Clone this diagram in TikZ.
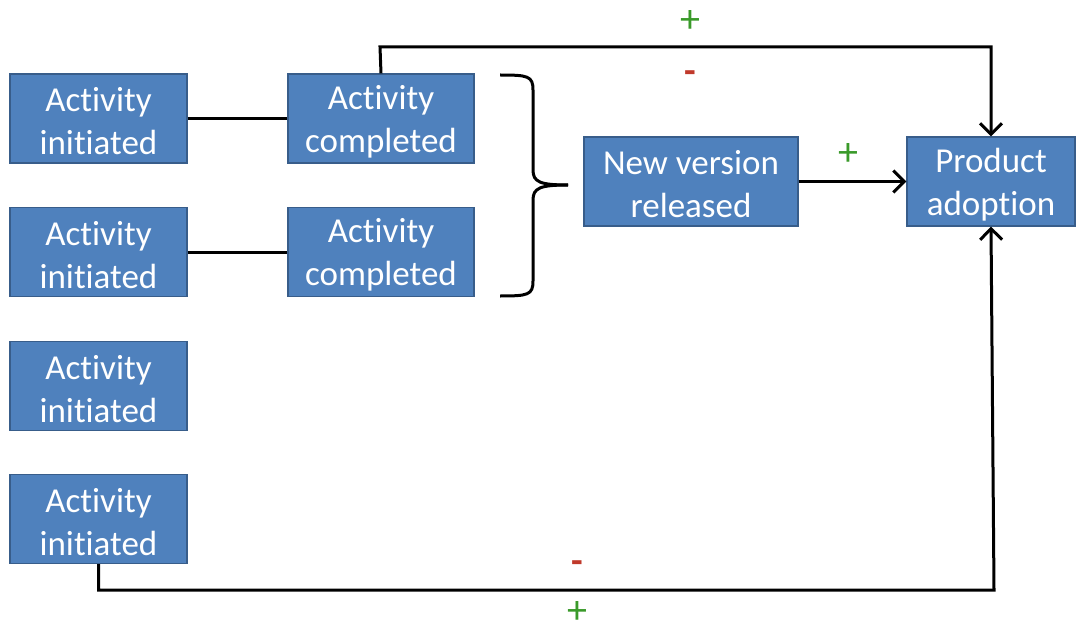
\documentclass[tikz,border=0pt]{standalone}
\usepackage{fontspec}
\setmainfont{Carlito}[Ligatures=NoCommon,RawFeature={-liga;-clig;-calt;-dlig}]
\usetikzlibrary{arrows.meta}
\definecolor{boxfill}{HTML}{4F81BD}
\definecolor{boxdraw}{HTML}{385D8A}
\definecolor{plusgreen}{HTML}{3A9A2A}
\definecolor{minusred}{HTML}{C0392B}
\newcommand{\tI}{t\kern0pt i}
\begin{document}
\begin{tikzpicture}[x=1pt,y=-1pt,
  box/.style={draw=boxdraw,fill=boxfill,line width=1.2pt,inner sep=0pt,minimum height=89pt},
  txt/.style={text=white,align=center,font=\fontsize{35}{43}\selectfont,inner sep=0pt,yshift=-3pt},
  wline/.style={line width=3pt,line join=miter},
  arr/.style={wline,-{Straight Barb[length=11pt,width=22pt,line width=3pt]}},
  plus/.style={text=plusgreen,font=\fontsize{40}{40}\selectfont,inner sep=0pt},
  minus/.style={text=minusred,font=\fontsize{38}{38}\selectfont\bfseries,inner sep=0pt}]
\useasboundingbox (0,0) rectangle (1078,631);
\node[box,minimum width=177pt,label={[txt]center:{Ac\tI vity\\ini\tI ated}}] (ai1) at (98.5,118.5) {};
\node[box,minimum width=186pt,label={[txt]center:{Ac\tI vity\\completed}}] (ac1) at (381,118.5) {};
\node[box,minimum width=177pt,label={[txt]center:{Ac\tI vity\\ini\tI ated}}] (ai2) at (98.5,252) {};
\node[box,minimum width=186pt,label={[txt]center:{Ac\tI vity\\completed}}] (ac2) at (381,252) {};
\node[box,minimum width=177pt,label={[txt]center:{Ac\tI vity\\ini\tI ated}}] (ai3) at (98.5,386) {};
\node[box,minimum width=177pt,label={[txt]center:{Ac\tI vity\\ini\tI ated}}] (ai4) at (98.5,519) {};
\node[box,minimum width=214pt,label={[txt]center:{New version\\released}}] (nv) at (691,181.5) {};
\node[box,minimum width=168pt,label={[txt]center:{Product\\adop\tI on}}] (pa) at (991,181.5) {};
\draw[wline] (ai1) -- (ac1);
\draw[wline] (ai2) -- (ac2);
\draw[arr] (ac1.north) -- (380,47) -| (pa.north);
\draw[arr] (ai4.south) |- (994,590) -- (pa.south);
\draw[arr] (nv) -- (pa);
% brace
\coordinate (btip) at (568,185);
\draw[line width=3pt] (500,75) .. controls (528,75) and (533,76) .. (533,90)
  -- (533,170) .. controls (533,182) and (540,185) .. (btip);
\draw[line width=3pt] (500,296) .. controls (528,296) and (533,295) .. (533,281)
  -- (533,200) .. controls (533,188) and (540,185) .. (btip);
\node[plus] (p1) at (690,22) {+};
\node[minus] (m1) at (690,77) {-};
\node[plus] (p2) at (848,155) {+};
\node[minus] (m2) at (577,567) {-};
\node[plus] (p3) at (577,612) {+};
\end{tikzpicture}
\end{document}
